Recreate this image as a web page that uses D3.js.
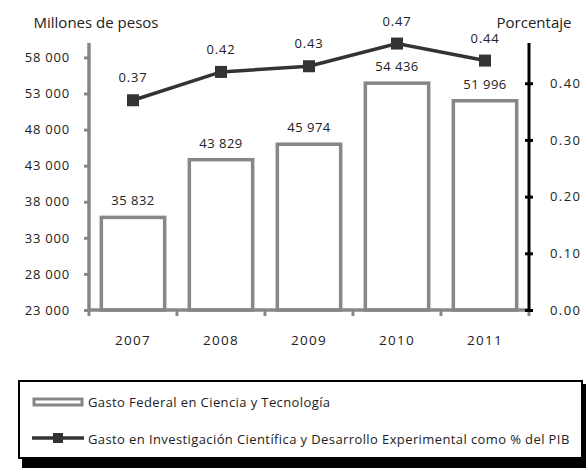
<!DOCTYPE html>
<html>
<head>
<meta charset="utf-8">
<script src="https://cdn.jsdelivr.net/npm/d3@7"></script>
<style>
body { margin: 0; background: #fff; }
text { font-family: "Open Sans", sans-serif; fill: #222; }
</style>
</head>
<body>
<div id="chart"></div>
<script>
var years = ["2007", "2008", "2009", "2010", "2011"];
var gasto = [35832, 43829, 45974, 54436, 51996];
var pib = [0.37, 0.42, 0.43, 0.47, 0.44];
var leftTicks = [23000, 28000, 33000, 38000, 43000, 48000, 53000, 58000];
var rightTicks = [0, 0.1, 0.2, 0.3, 0.4];
var legendLabels = ["Gasto Federal en Ciencia y Tecnología",
  "Gasto en Investigación Científica y Desarrollo Experimental como % del PIB"];

var W = 586, H = 468;
var margin = {top: 43, right: 57, bottom: 158, left: 89},
    width = W - margin.left - margin.right,
    height = H - margin.top - margin.bottom;

var svg = d3.select("#chart").append("svg")
    .attr("width", W).attr("height", H);

var g = svg.append("g")
    .attr("transform", "translate(" + margin.left + "," + margin.top + ")");

var x = d3.scaleBand().domain(years).range([0, width]).paddingInner(0).paddingOuter(0);
var y = d3.scaleLinear().domain([23000, 60000]).range([height, 0]);
var y2 = d3.scaleLinear().domain([0, 0.471]).range([height, 0]);

var fmt = function(v) { return d3.format(",")(v).replace(",", " "); };

// bars
var bw = x.bandwidth() * 0.72;
g.selectAll("rect.bar").data(gasto).enter().append("rect")
    .attr("class", "bar")
    .attr("x", function(d, i) { return x(years[i]) + (x.bandwidth() - bw) / 2; })
    .attr("y", function(d) { return y(d); })
    .attr("width", bw)
    .attr("height", function(d) { return height - y(d); })
    .attr("fill", "#fff")
    .attr("stroke", "#878787")
    .attr("stroke-width", 3.5);

g.selectAll("text.blabel").data(gasto).enter().append("text")
    .attr("x", function(d, i) { return x(years[i]) + x.bandwidth() / 2; })
    .attr("y", function(d) { return y(d) - 12; })
    .attr("text-anchor", "middle")
    .attr("font-size", 13)
    .attr("letter-spacing", 0.5)
    .text(fmt);

// left axis
var la = g.append("g")
    .call(d3.axisLeft(y).tickValues(leftTicks).tickSize(5).tickFormat(fmt).tickPadding(14));
la.select(".domain").attr("stroke", "#878787").attr("stroke-width", 3.5)
    .attr("d", "M0," + height + "V0");
la.selectAll(".tick line").attr("stroke", "#878787").attr("stroke-width", 3);
la.selectAll(".tick text").attr("font-size", 13).attr("letter-spacing", 0.8).attr("fill", "#222");

// bottom axis
var ba = g.append("g").attr("transform", "translate(0," + height + ")")
    .call(d3.axisBottom(x).tickSize(0).tickPadding(25));
ba.select(".domain").attr("stroke", "#878787").attr("stroke-width", 3.5)
    .attr("d", "M0,0H" + width);
ba.selectAll(".tick text").attr("font-size", 13.5).attr("letter-spacing", 1.3).attr("fill", "#222");
ba.selectAll("line.sep").data(d3.range(years.length + 1)).enter().append("line")
    .attr("x1", function(d) { return d * x.bandwidth(); })
    .attr("x2", function(d) { return d * x.bandwidth(); })
    .attr("y1", 0).attr("y2", 6)
    .attr("stroke", "#878787").attr("stroke-width", 3);

// right axis
var ra = g.append("g").attr("transform", "translate(" + width + ",0)")
    .call(d3.axisRight(y2).tickValues(rightTicks).tickSize(4).tickFormat(d3.format(".2f")).tickPadding(17));
ra.select(".domain").attr("stroke", "#000").attr("stroke-width", 3)
    .attr("d", "M0," + height + "V0");
ra.selectAll(".tick line").attr("stroke", "#000").attr("stroke-width", 3).attr("x1", -4);
ra.selectAll(".tick text").attr("font-size", 13).attr("letter-spacing", 1.4).attr("fill", "#222");

// line
var line = d3.line()
    .x(function(d, i) { return x(years[i]) + x.bandwidth() / 2; })
    .y(function(d) { return y2(d); });
g.append("path").datum(pib)
    .attr("d", line)
    .attr("fill", "none")
    .attr("stroke", "#333")
    .attr("stroke-width", 3.5);
g.selectAll("rect.mk").data(pib).enter().append("rect")
    .attr("x", function(d, i) { return x(years[i]) + x.bandwidth() / 2 - 6; })
    .attr("y", function(d) { return y2(d) - 6; })
    .attr("width", 12).attr("height", 12)
    .attr("fill", "#333");
g.selectAll("text.plabel").data(pib).enter().append("text")
    .attr("x", function(d, i) { return x(years[i]) + x.bandwidth() / 2; })
    .attr("y", function(d) { return y2(d) - 18; })
    .attr("text-anchor", "middle")
    .attr("font-size", 13)
    .attr("letter-spacing", 0.8)
    .text(d3.format(".2f"));

// axis titles
svg.append("text").attr("x", 96).attr("y", 28).attr("text-anchor", "middle")
    .attr("font-size", 15).text("Millones de pesos");
svg.append("text").attr("x", 534).attr("y", 28).attr("text-anchor", "middle")
    .attr("font-size", 15).text("Porcentaje");

// legend
var lg = svg.append("g");
lg.append("rect").attr("x", 22).attr("y", 384).attr("width", 564).attr("height", 84).attr("fill", "#000");
lg.append("rect").attr("x", 19).attr("y", 381).attr("width", 563).attr("height", 77)
    .attr("fill", "#fff").attr("stroke", "#000").attr("stroke-width", 2);
lg.append("rect").attr("x", 34).attr("y", 399).attr("width", 48).attr("height", 6)
    .attr("fill", "#fff").attr("stroke", "#878787").attr("stroke-width", 3);
lg.append("line").attr("x1", 32).attr("x2", 84).attr("y1", 438).attr("y2", 438)
    .attr("stroke", "#333").attr("stroke-width", 3.5);
lg.append("rect").attr("x", 53).attr("y", 433).attr("width", 10).attr("height", 10).attr("fill", "#333");
lg.selectAll("text").data(legendLabels).enter().append("text")
    .attr("x", 88).attr("y", function(d, i) { return 407 + i * 37; })
    .attr("font-size", 13)
    .attr("letter-spacing", 0.4)
    .text(function(d) { return d; });
</script>
</body>
</html>
